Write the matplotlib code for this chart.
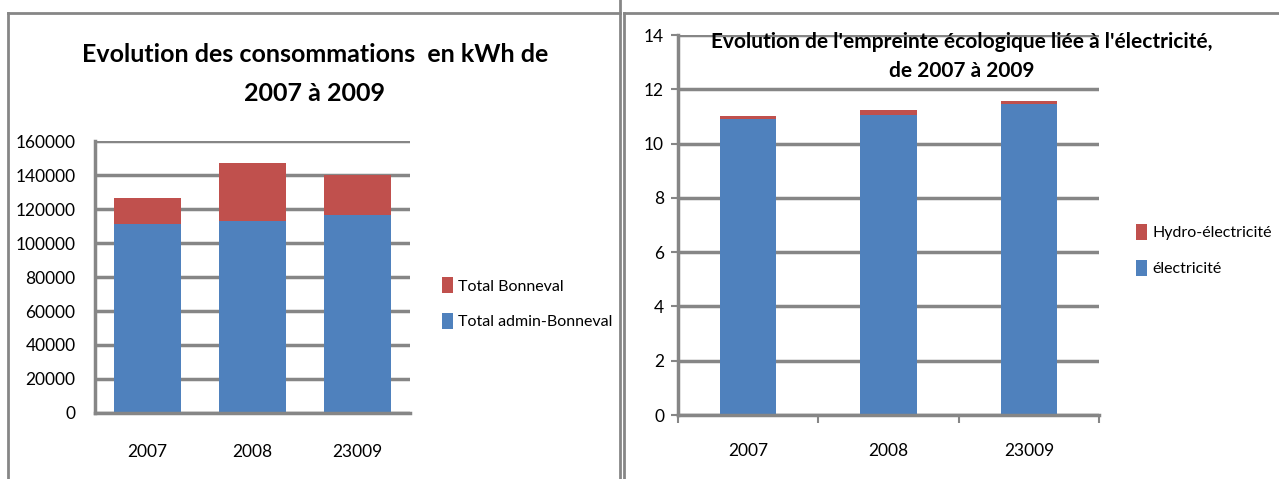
import matplotlib
matplotlib.use("Agg")
import matplotlib.pyplot as plt
from matplotlib.lines import Line2D
import numpy as np

plt.rcParams['font.family'] = ['Lato', 'DejaVu Sans']

annees = ['2007', '2008', '23009']

# consommations en kWh
admin_bonneval = [111000, 113000, 116700]
total_bonneval = [15600, 33900, 23400]

# empreinte écologique
electricite = [10.92, 11.04, 11.47]
hydro = [0.08, 0.19, 0.11]

bleu = '#4F81BD'
rouge = '#C0504D'
gris = '#868686'

fig = plt.figure(figsize=(12.79, 4.79), dpi=100)


def style_axes(ax, ticks_out):
    ax.set_axisbelow(True)
    ax.yaxis.grid(True, color=gris, linewidth=2.5)
    for s in ['top', 'right']:
        ax.spines[s].set_visible(False)
    for s in ['left', 'bottom']:
        ax.spines[s].set_color(gris)
        ax.spines[s].set_linewidth(2.5)
    if ticks_out:
        ax.tick_params(axis='y', length=5, width=1.5, color=gris, labelsize=12.5, pad=5)
        ax.tick_params(axis='x', which='minor', length=6, width=1.5, color=gris)
        ax.tick_params(axis='x', which='major', length=0, labelsize=12.5, pad=20)
    else:
        ax.tick_params(axis='both', length=0, labelsize=12.5)
        ax.tick_params(axis='x', pad=22)
        ax.tick_params(axis='y', pad=14)


# graphique de gauche
ax1 = fig.add_axes([0.0743, 0.1378, 0.2463, 0.5678])
x = np.arange(len(annees))
ax1.bar(x, admin_bonneval, 0.64, color=bleu, label='Total admin-Bonneval')
ax1.bar(x, total_bonneval, 0.64, bottom=admin_bonneval, color=rouge, label='Total Bonneval')
ax1.set_xlim(-0.5, 2.5)
ax1.set_ylim(0, 160000)
ax1.set_yticks(np.arange(0, 160001, 20000))
ax1.set_xticks(x)
ax1.set_xticklabels(annees)
style_axes(ax1, False)
fig.text(0.246, 0.845, 'Evolution des consommations  en kWh de\n2007 à 2009',
         ha='center', va='center', fontsize=18, fontweight='bold', linespacing=1.85)
h, l = ax1.get_legend_handles_labels()
fig.legend(h[::-1], l[::-1], loc='center left', bbox_to_anchor=(0.334, 0.367),
           frameon=False, fontsize=11.5, handlelength=0.7, handleheight=1.2,
           handletextpad=0.3, labelspacing=1.2)

# graphique de droite
ax2 = fig.add_axes([0.5301, 0.1336, 0.3292, 0.7933])
ax2.bar(x, electricite, 0.4, color=bleu, label='électricité')
ax2.bar(x, hydro, 0.4, bottom=electricite, color=rouge, label='Hydro-électricité')
ax2.set_xlim(-0.5, 2.5)
ax2.set_ylim(0, 14)
ax2.set_yticks(np.arange(0, 15, 2))
ax2.set_xticks(x)
ax2.set_xticklabels(annees)
ax2.set_xticks([-0.5, 0.5, 1.5, 2.5], minor=True)
style_axes(ax2, True)
fig.text(0.752, 0.882, "Evolution de l'empreinte écologique liée à l'électricité,\nde 2007 à 2009",
         ha='center', va='center', fontsize=15, fontweight='bold', linespacing=1.6)
h, l = ax2.get_legend_handles_labels()
fig.legend(h[::-1], l[::-1], loc='center left', bbox_to_anchor=(0.877, 0.478),
           frameon=False, fontsize=11.5, handlelength=0.7, handleheight=1.2,
           handletextpad=0.3, labelspacing=1.2)

# cadres
for xs, ys in [([0.006, 0.006], [0, 0.973]), ([0.006, 0.485], [0.973, 0.973]),
               ([0.485, 0.485], [0, 1]), ([0.488, 0.488], [0, 0.973]),
               ([0.488, 1], [0.973, 0.973])]:
    fig.add_artist(Line2D(xs, ys, color=gris, linewidth=2))

fig.savefig('out.png', dpi=100)
